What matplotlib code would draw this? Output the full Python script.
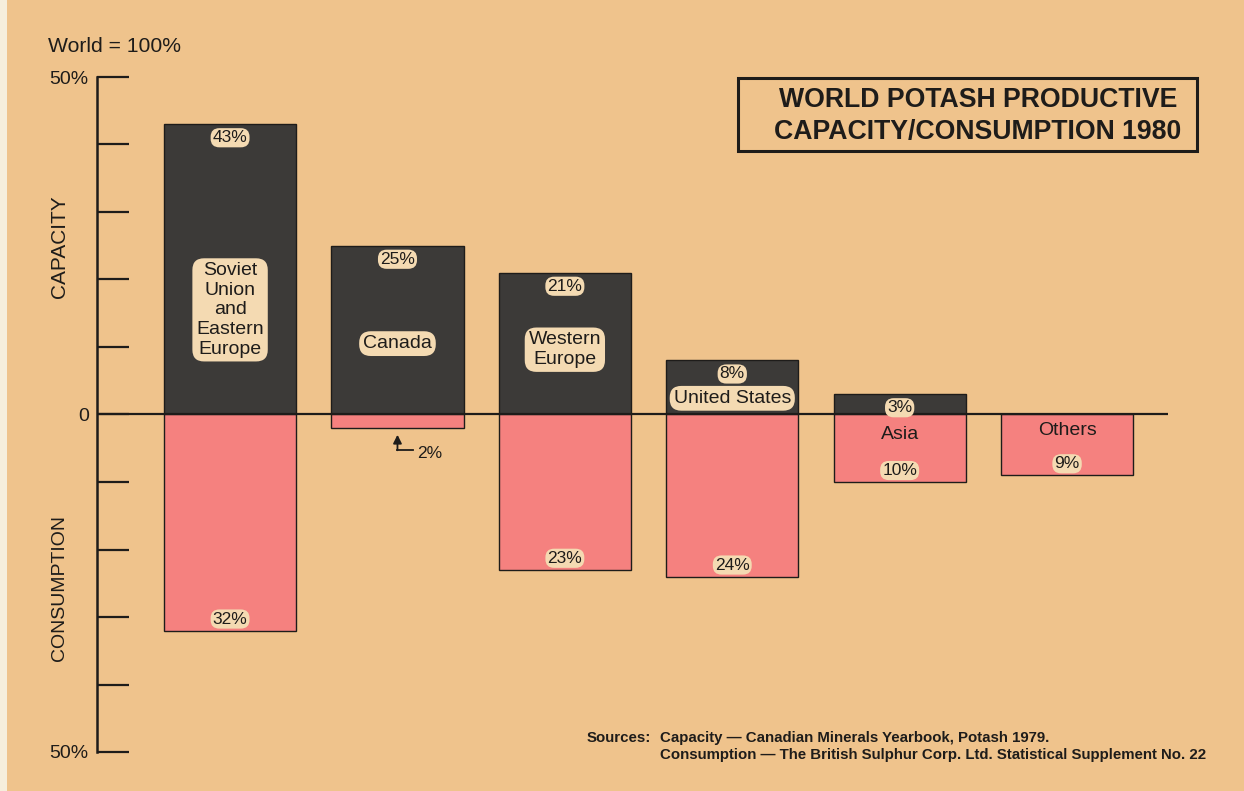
import numpy as np
import matplotlib
matplotlib.use("Agg")
import matplotlib.pyplot as plt
from matplotlib.patches import Rectangle

plt.rcParams["font.family"] = ["Liberation Sans", "DejaVu Sans"]

# data (percent of world total, 1980)
regions = ["Soviet\nUnion\nand\nEastern\nEurope", "Canada", "Western\nEurope",
           "United States", "Asia", "Others"]
capacity = [43, 25, 21, 8, 3, 0]
consumption = [32, 2, 23, 24, 10, 9]
cap_labels = ["43%", "25%", "21%", "8%", "3%", ""]
con_labels = ["32%", "", "23%", "24%", "10%", "9%"]

# layout of the region names (y in data units), boxed or not
name_y = [15.5, 10.5, 9.6, 2.4, -2.9, -2.4]
name_box = [True, True, True, True, False, False]

bg = "#efc38c"
dark = "#3c3a38"
pink = "#f5817f"
cream = "#f4dab2"
ink = "#1e1c1a"

W, H = 1244, 791
fig = plt.figure(figsize=(W/100, H/100), dpi=100)
fig.patch.set_facecolor(bg)
fig.patches.append(Rectangle((0, 0), 7/W, 1, transform=fig.transFigure,
                             facecolor="#f6eedc", edgecolor="none"))

ax = fig.add_axes([97/W, 1-752/H, (1168-97)/W, (752-77)/H])
ax.set_facecolor("none")
x = np.arange(len(regions))
ax.set_xlim(-0.795, 5.603)
ax.set_ylim(-50, 50)

ax.bar(x, capacity, width=0.79, color=dark, edgecolor=ink, linewidth=1, zorder=2)
ax.bar(x, -np.array(consumption), width=0.79, color=pink, edgecolor=ink,
       linewidth=1, zorder=2)
ax.axhline(0, color=ink, lw=1.6, zorder=4)

for s in ["top", "right", "bottom"]:
    ax.spines[s].set_visible(False)
ax.spines["left"].set_linewidth(1.8)
ax.spines["left"].set_color(ink)
ax.set_xticks([])
yt = np.arange(-50, 51, 10)
ax.set_yticks(yt)
ax.set_yticklabels(["50%" if abs(v) == 50 else ("0" if v == 0 else "") for v in yt],
                   fontsize=14, color=ink)
ax.tick_params(axis="y", direction="in", length=23, width=1.6, color=ink, pad=6)

pct_box = dict(boxstyle="round,pad=0.12,rounding_size=0.5", fc=cream, ec="none")
name_bbox = dict(boxstyle="round,pad=0.2,rounding_size=0.6", fc=cream, ec="none")

for i in range(len(regions)):
    if cap_labels[i]:
        ax.text(x[i], capacity[i] - 2, cap_labels[i], ha="center", va="center",
                fontsize=12.5, color=ink, bbox=pct_box, zorder=5)
    if con_labels[i]:
        ax.text(x[i], -consumption[i] + 1.7, con_labels[i], ha="center", va="center",
                fontsize=12.5, color=ink, bbox=pct_box, zorder=5)
    ax.text(x[i], name_y[i], regions[i], ha="center", va="center", fontsize=14,
            color=ink, linespacing=1.2, zorder=5,
            bbox=name_bbox if name_box[i] else None)

# Canada consumption 2% pointer
ax.annotate("", xy=(1, -3.0), xytext=(1, -5.3),
            arrowprops=dict(arrowstyle="-|>,head_length=0.5,head_width=0.25",
                            color=ink, lw=1.3, shrinkA=0, shrinkB=0))
ax.plot([1, 1.095], [-5.3, -5.3], color=ink, lw=1.3, clip_on=False)
ax.text(1.12, -5.8, "2%", ha="left", va="center", fontsize=12.5, color=ink)

fig.text(48/W, 1-46/H, "World = 100%", ha="left", va="center", fontsize=15.2, color=ink)
fig.text(60/W, 1-247/H, "CAPACITY", rotation=90, ha="center", va="center",
         fontsize=15, color=ink)
fig.text(60/W, 1-588/H, "CONSUMPTION", rotation=90, ha="center", va="center",
         fontsize=14, color=ink)

fig.patches.append(Rectangle((738/W, 1-151/H), (1197-738)/W, 73/H,
                             transform=fig.transFigure, facecolor="none",
                             edgecolor=ink, linewidth=2.2))
fig.text(978/W, 1-116/H, "WORLD POTASH PRODUCTIVE\nCAPACITY/CONSUMPTION 1980",
         ha="center", va="center", fontsize=19.2, fontweight="bold", color=ink,
         linespacing=1.3)

fig.text(587/W, 1-738/H, "Sources:", ha="left", va="center", fontsize=10.8,
         fontweight="bold", color=ink)
fig.text(660/W, 1-738/H, "Capacity \u2014 Canadian Minerals Yearbook, Potash 1979.",
         ha="left", va="center", fontsize=10.8, fontweight="bold", color=ink)
fig.text(660/W, 1-755/H,
         "Consumption \u2014 The British Sulphur Corp. Ltd. Statistical Supplement No. 22",
         ha="left", va="center", fontsize=10.8, fontweight="bold", color=ink)

fig.savefig("out.png", dpi=100, facecolor=fig.get_facecolor())
